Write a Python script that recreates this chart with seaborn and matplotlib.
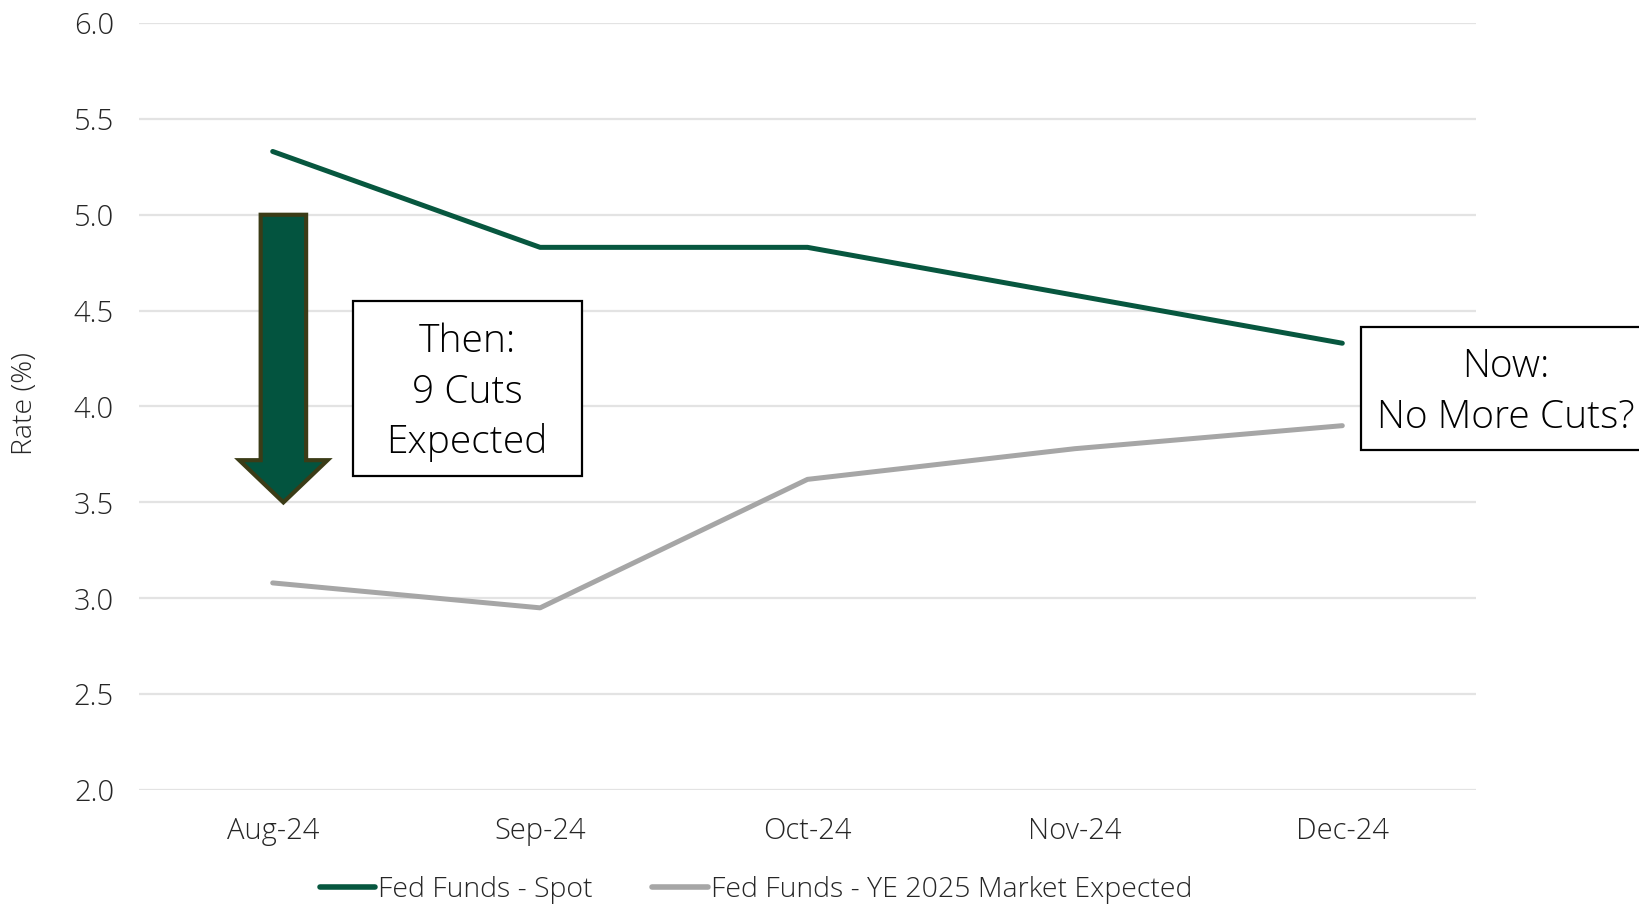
import matplotlib
matplotlib.use("Agg")
import matplotlib.pyplot as plt
from matplotlib import font_manager
from matplotlib.patches import FancyArrow, Rectangle
from matplotlib.lines import Line2D
import seaborn as sns
import pandas as pd

# Monthly fed funds rates
months = ["Aug-24", "Sep-24", "Oct-24", "Nov-24", "Dec-24"]
spot = [5.33, 4.83, 4.83, 4.58, 4.33]
ye2025_expected = [3.08, 2.95, 3.62, 3.78, 3.90]
series_names = ["Fed Funds - Spot", "Fed Funds - YE 2025 Market Expected"]
y_ticks = [2.0, 2.5, 3.0, 3.5, 4.0, 4.5, 5.0, 5.5, 6.0]

SPOT_COLOR = "#07573f"
EXP_COLOR = "#a6a6a6"
TEXT_COLOR = "#262626"

# Prefer a light-weight sans face if one is installed
def pick_font():
    for fam in ["Open Sans", "Noto Sans", "Lato", "Roboto", "Inter"]:
        for f in font_manager.fontManager.ttflist:
            if f.name == fam and isinstance(f.weight, int) and f.weight <= 350 and f.style == "normal":
                return fam, "light"
    return "Open Sans", "normal"

FONT, WEIGHT = pick_font()

df = pd.DataFrame({
    "pos": list(range(len(months))) * 2,
    "rate": spot + ye2025_expected,
    "series": [series_names[0]] * len(months) + [series_names[1]] * len(months),
})

sns.set_theme(style="whitegrid")
plt.rcParams["font.family"] = [FONT, "DejaVu Sans"]
plt.rcParams["font.weight"] = WEIGHT

W, H = 1640, 905
fig = plt.figure(figsize=(W / 100, H / 100), dpi=100)
ax = fig.add_axes([139 / W, 1 - 790 / H, (1476 - 139) / W, (790 - 23) / H])

sns.lineplot(
    data=df, x="pos", y="rate", hue="series",
    palette={series_names[0]: SPOT_COLOR, series_names[1]: EXP_COLOR},
    linewidth=3.6, solid_capstyle="round", legend=False, ax=ax, sort=False,
)

ax.set_xlim(-0.5, len(months) - 0.5)
ax.set_ylim(y_ticks[0], y_ticks[-1])
ax.set_xticks(range(len(months)))
ax.set_xticklabels(months)
ax.set_yticks(y_ticks)
ax.set_yticklabels([f"{v:.1f}" for v in y_ticks])
ax.grid(axis="x", visible=False)
ax.grid(axis="y", color="#e3e3e3", linewidth=1.6)
for s in ax.spines.values():
    s.set_visible(False)
ax.tick_params(axis="both", length=0, labelsize=21, colors=TEXT_COLOR)
ax.tick_params(axis="y", pad=18)
ax.tick_params(axis="x", pad=19)
ax.set_xlabel("")
ax.set_ylabel("")
fig.text(25 / W, 1 - 403 / H, "Rate (%)", rotation=90, ha="center", va="center",
         fontsize=20.5, color=TEXT_COLOR)

# Downward arrow marking the expected cuts
arrow = FancyArrow(
    0.04, 5.0, 0, -1.5, width=0.17, head_width=0.33, head_length=0.22,
    length_includes_head=True, facecolor="#03543f", edgecolor="#3b3c17",
    linewidth=3.0, zorder=4,
)
ax.add_patch(arrow)

# Callout boxes
def callout(x0, y0, x1, y1, lines, cx, ys, size):
    fig.add_artist(Rectangle(
        (x0 / W, 1 - y1 / H), (x1 - x0) / W, (y1 - y0) / H,
        transform=fig.transFigure, facecolor="white", edgecolor="black",
        linewidth=1.6, zorder=5,
    ))
    for txt, yy in zip(lines, ys):
        fig.text(cx / W, 1 - yy / H, txt, ha="center", va="center",
                 fontsize=size, color="black", zorder=6)

callout(353, 301, 582, 476, ["Then:", "9 Cuts", "Expected"], 467, [342, 393, 443], 28)
callout(1361, 327, 1660, 450, ["Now:", "No More Cuts?"], 1506, [367, 418], 28)

handles = [
    Line2D([], [], color=SPOT_COLOR, linewidth=4, solid_capstyle="round"),
    Line2D([], [], color=EXP_COLOR, linewidth=4, solid_capstyle="round"),
]
fig.legend(
    handles, series_names, loc="center", bbox_to_anchor=(756 / W, 1 - 890 / H),
    ncol=2, frameon=False, fontsize=20.5, handlelength=1.95, handletextpad=0.1,
    columnspacing=2.1, labelcolor=TEXT_COLOR, borderaxespad=0, borderpad=0,
)

fig.savefig("out.png", dpi=100, facecolor="white")
